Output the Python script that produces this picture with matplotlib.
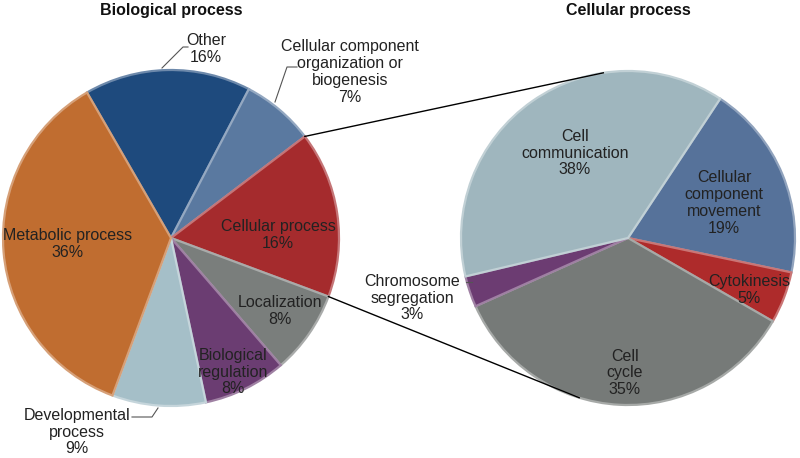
import matplotlib
matplotlib.use("Agg")
import matplotlib.pyplot as plt
import matplotlib.colors as mcolors
import numpy as np

plt.rcParams['font.family'] = ['Liberation Sans', 'DejaVu Sans']

# data
bio_labels = ['Other', 'Cellular component\norganization or\nbiogenesis', 'Cellular process',
              'Localization', 'Biological\nregulation', 'Developmental\nprocess', 'Metabolic process']
bio_values = [16, 7, 16, 8, 8, 9, 36]
bio_colors = ['#1e4a7d', '#5a79a0', '#a52b2d', '#7a7e7c', '#6b3d72', '#a5bfc8', '#c06d30']

cell_labels = ['Cellular\ncomponent\nmovement', 'Cytokinesis', 'Cell\ncycle',
               'Chromosome\nsegregation', 'Cell\ncommunication']
cell_values = [19, 5, 35, 3, 38]
cell_colors = ['#56729a', '#ae2b2b', '#767a78', '#6c3c72', '#9fb6be']

# label positions (pixel coords, y from top)
bio_pos = [(206, 49), (350, 72), (278, 235), (280, 311), (233, 372), (77, 432), (68, 244)]
cell_pos = [(724, 203), (749, 290), (625, 373), (412, 298), (575, 153)]

fig = plt.figure(figsize=(8, 4.58), dpi=100)
ax = fig.add_axes([0, 0, 1, 1])

def lighter(c, f=0.35):
    r, g, b = mcolors.to_rgb(c)
    return (r + (1 - r) * f, g + (1 - g) * f, b + (1 - b) * f)

def draw_pie(values, colors, center, r, start):
    # y axis inverted -> pie angles flip, so go counterclock in data space
    wedges, _ = ax.pie(values, colors=colors, center=center, radius=r,
                       startangle=-start, counterclock=True, frame=True)
    for w, c in zip(wedges, colors):
        w.set_edgecolor(lighter(c))
        w.set_linewidth(1.6)
    return wedges

bio_c, bio_r = (171, 238), 168
cell_c, cell_r = (628, 238), 167
bio_w = draw_pie(bio_values, bio_colors, bio_c, bio_r, 120)
cell_w = draw_pie(cell_values, cell_colors, cell_c, cell_r, 56.5)
ax.set_xlim(0, 800)
ax.set_ylim(458, 0)
ax.set_aspect('equal')
ax.axis('off')

txt = dict(ha='center', va='center', fontsize=11.5, color='#222222', linespacing=1.15)
for lab, v, (x, y) in zip(bio_labels, bio_values, bio_pos):
    ax.text(x, y, f'{lab}\n{v}%', **txt)
for lab, v, (x, y) in zip(cell_labels, cell_values, cell_pos):
    ax.text(x, y, f'{lab}\n{v}%', **txt)

ax.text(171, 11, 'Biological process', ha='center', va='center', fontsize=11.5, fontweight='bold', color='#111111')
ax.text(628, 11, 'Cellular process', ha='center', va='center', fontsize=11.5, fontweight='bold', color='#111111')

# leader lines
lk = dict(color='#555555', lw=0.8)
ax.plot([162, 183, 188], [68, 47, 47], **lk)
ax.plot([275, 287, 297], [102, 67, 67], **lk)
ax.plot([158, 152, 132], [408, 417, 417], **lk)
ax.plot([466, 472], [282, 282], **lk)

# connector lines between pies (from the Cellular process wedge edges)
w = bio_w[2]
a1, a2 = np.radians(w.theta1), np.radians(w.theta2)
p_top = (bio_c[0] + bio_r * np.cos(a1), bio_c[1] + bio_r * np.sin(a1))
p_bot = (bio_c[0] + bio_r * np.cos(a2), bio_c[1] + bio_r * np.sin(a2))
q_top = (cell_c[0] + cell_r * np.cos(np.radians(-98.5)), cell_c[1] + cell_r * np.sin(np.radians(-98.5)))
q_bot = (cell_c[0] + cell_r * np.cos(np.radians(107)), cell_c[1] + cell_r * np.sin(np.radians(107)))
ax.plot([p_top[0], q_top[0]], [p_top[1], q_top[1]], color='black', lw=1)
ax.plot([p_bot[0], q_bot[0]], [p_bot[1], q_bot[1]], color='black', lw=1)

fig.savefig('out.png', dpi=100)
